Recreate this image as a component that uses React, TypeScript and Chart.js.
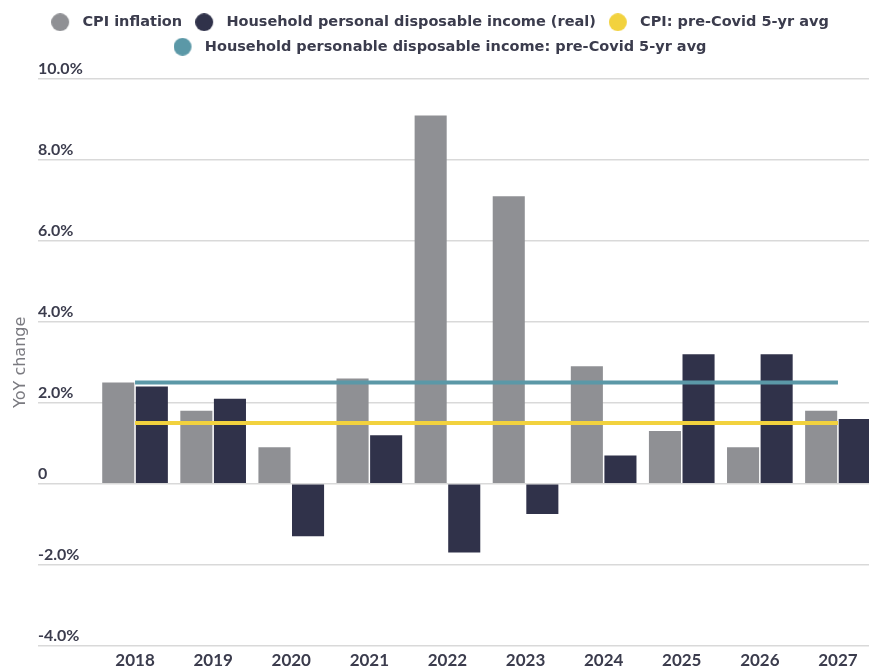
import React, { useEffect, useRef } from 'react';
import { Chart, registerables } from 'chart.js';

Chart.register(...registerables);

// ---- data ----
const years = ['2018', '2019', '2020', '2021', '2022', '2023', '2024', '2025', '2026', '2027'];
const cpiInflation = [2.5, 1.8, 0.9, 2.6, 9.1, 7.1, 2.9, 1.3, 0.9, 1.8];
const householdIncomeReal = [2.4, 2.1, -1.3, 1.2, -1.7, -0.75, 0.7, 3.2, 3.2, 1.6];
const cpiPreCovidAvg = [1.5, 1.5, 1.5, 1.5, 1.5, 1.5, 1.5, 1.5, 1.5, 1.5];
const householdPreCovidAvg = [2.5, 2.5, 2.5, 2.5, 2.5, 2.5, 2.5, 2.5, 2.5, 2.5];
const legendLabels = [
  'CPI inflation',
  'Household personal disposable income (real)',
  'CPI: pre-Covid 5-yr avg',
  'Household personable disposable income: pre-Covid 5-yr avg',
];
const yMin = -4;
const yMax = 10;
const yStep = 2;

// ---- styles ----
const GREY = '#8f9094';
const NAVY = '#30324a';
const YELLOW = '#f2d23e';
const TEAL = '#5b98a7';
const TEXT = '#3b3c4d';
const GRID = '#d9d9d9';

function makeDot(color: string): HTMLCanvasElement {
  const c = document.createElement('canvas');
  c.width = 21;
  c.height = 18;
  const ctx = c.getContext('2d')!;
  ctx.fillStyle = color;
  ctx.beginPath();
  ctx.arc(9, 9, 9, 0, Math.PI * 2);
  ctx.fill();
  return c;
}

const legendSpacer = {
  id: 'legendSpacer',
  beforeLayout(chart: any) {
    const legend = chart.legend;
    if (legend && !legend.__patched) {
      const fit = legend.fit;
      legend.fit = function () {
        fit.call(this);
        this.height = 74;
      };
      legend.__patched = true;
    }
  },
};

export default function App() {
  const ref = useRef<HTMLCanvasElement | null>(null);

  useEffect(() => {
    if (!ref.current) return;
    const colors = [GREY, NAVY, YELLOW, TEAL];
    const dots = colors.map(makeDot);

    const chart = new Chart(ref.current, {
      type: 'bar',
      data: {
        labels: years,
        datasets: [
          {
            type: 'bar',
            label: legendLabels[0],
            data: cpiInflation,
            yAxisID: 'y',
            xAxisID: 'x',
            backgroundColor: GREY,
            borderWidth: 0,
            order: 1,
            categoryPercentage: 0.86,
            barPercentage: 0.955,
          },
          {
            type: 'bar',
            label: legendLabels[1],
            data: householdIncomeReal,
            yAxisID: 'y',
            xAxisID: 'x',
            backgroundColor: NAVY,
            borderWidth: 0,
            order: 1,
            categoryPercentage: 0.86,
            barPercentage: 0.955,
          },
          {
            type: 'line',
            label: legendLabels[2],
            data: cpiPreCovidAvg,
            yAxisID: 'y',
            xAxisID: 'x',
            borderColor: YELLOW,
            backgroundColor: YELLOW,
            borderWidth: 4,
            pointRadius: 0,
            fill: false,
            order: 0,
          },
          {
            type: 'line',
            label: legendLabels[3],
            data: householdPreCovidAvg,
            yAxisID: 'y',
            xAxisID: 'x',
            borderColor: TEAL,
            backgroundColor: TEAL,
            borderWidth: 4,
            pointRadius: 0,
            fill: false,
            order: 0,
          },
        ] as any,
      },
      options: {
        responsive: false,
        devicePixelRatio: 1,
        animation: false,
        layout: { padding: { top: 5, right: 3, bottom: 0, left: 0 } },
        plugins: {
          tooltip: { enabled: false },
          legend: {
            position: 'top',
            align: 'center',
            labels: {
              usePointStyle: true,
              pointStyleWidth: 27,
              padding: 10,
              color: TEXT,
              font: { family: '"DejaVu Sans"', size: 14.5, weight: 'bold' },
              generateLabels: () =>
                legendLabels.map((text, i) => ({
                  text,
                  fillStyle: colors[i],
                  strokeStyle: colors[i],
                  lineWidth: 0,
                  pointStyle: dots[i],
                  hidden: false,
                  datasetIndex: i,
                  fontColor: TEXT,
                })),
            },
          },
        },
        scales: {
          x: {
            type: 'category',
            offset: true,
            grid: { display: false, drawTicks: false },
            border: { display: false },
            ticks: {
              color: TEXT,
              padding: 5,
              font: { family: 'Lato', size: 17, weight: 'bold' },
            },
          },
          yt: {
            type: 'linear',
            position: 'left',
            weight: 10,
            display: true,
            min: 0,
            max: 1,
            grid: { display: false, drawTicks: false },
            border: { display: false },
            ticks: { display: false },
            title: {
              display: true,
              text: 'YoY change',
              color: '#7a7a80',
              font: { family: '"DejaVu Sans"', size: 16, weight: 'normal' },
              padding: { top: 11, bottom: 0 },
            },
            afterFit(s: any) {
              s.width = 38;
            },
          },
          y: {
            type: 'linear',
            position: 'left',
            weight: 0,
            min: yMin,
            max: yMax,
            grid: {
              color: GRID,
              lineWidth: 1.5,
              drawTicks: true,
              tickLength: 58,
              tickColor: GRID,
              tickWidth: 1.5,
            },
            border: { display: false },
            ticks: {
              stepSize: yStep,
              crossAlign: 'far',
              labelOffset: -10,
              padding: 0,
              color: TEXT,
              font: { family: 'Lato', size: 16, weight: 'bold' },
              callback: (v: any) => (Number(v) === 0 ? '0' : `${Number(v).toFixed(1)}%`),
            },
            afterFit(s: any) {
              s.width = 58;
            },
          },
        },
      } as any,
      plugins: [legendSpacer],
    });

    return () => chart.destroy();
  }, []);

  return (
    <div
      style={{
        position: 'absolute',
        left: 0,
        top: 0,
        width: 869,
        height: 669,
        overflow: 'hidden',
        background: '#ffffff',
      }}
    >
      <canvas ref={ref} width={880} height={676} style={{ display: 'block', width: 880, height: 676 }} />
    </div>
  );
}
